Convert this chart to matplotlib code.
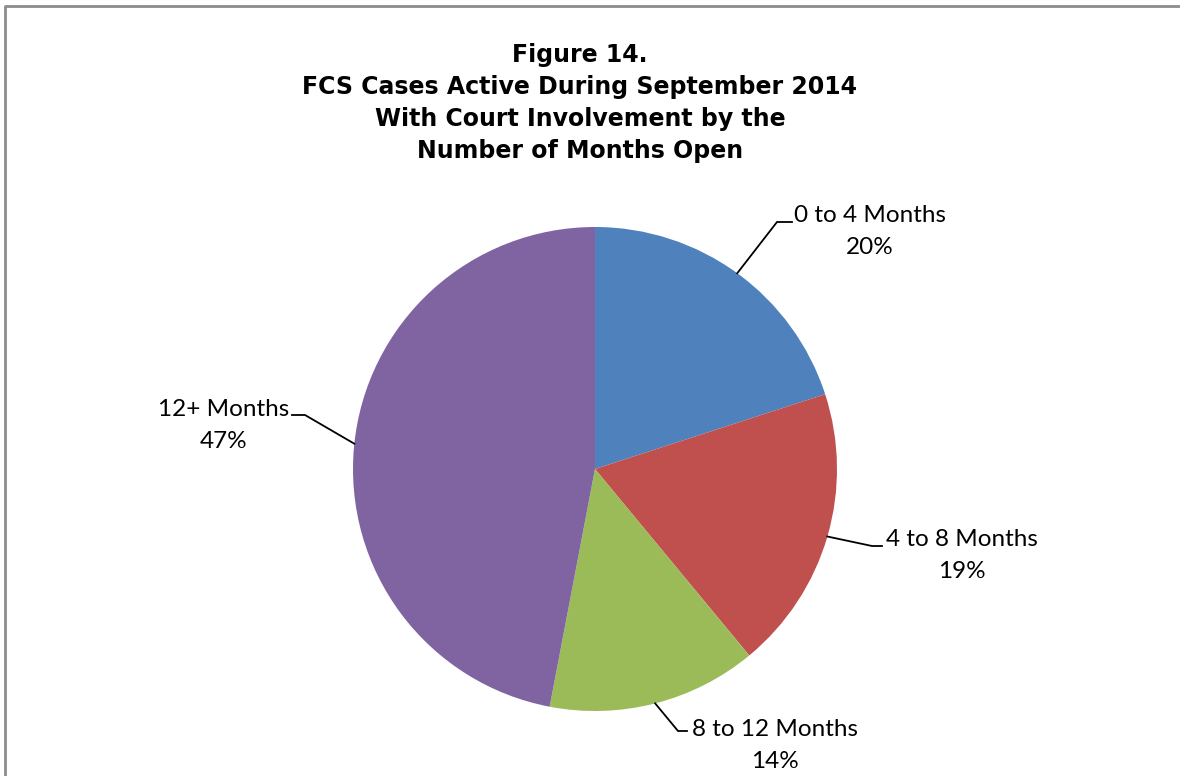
import matplotlib
matplotlib.use('Agg')
import matplotlib.pyplot as plt
import numpy as np

# data
categories = ['0 to 4 Months', '4 to 8 Months', '8 to 12 Months', '12+ Months']
shares = [20, 19, 14, 47]
colors = ['#4F81BD', '#C0504D', '#9BBB59', '#8064A2']
title_lines = ['Figure 14.', 'FCS Cases Active During September 2014',
               'With Court Involvement by the', 'Number of Months Open']

W, H = 1180, 776
fig = plt.figure(figsize=(W / 100, H / 100), dpi=100)
ax = fig.add_axes([0, 0, 1, 1])

cx, cy, r = 595, H - 469, 242
wedges, _ = ax.pie(shares, colors=colors, startangle=90, counterclock=False,
                   center=(cx, cy), radius=r, frame=True,
                   wedgeprops=dict(linewidth=0))
ax.set_xlim(0, W)
ax.set_ylim(0, H)
ax.set_aspect('equal')
ax.axis('off')

# label layout (pixel coords, y from top): label centre x, line centres, elbow, line end
label_x = [870, 962, 775, 224]
label_y = [(216, 247), (540, 572), (729, 761), (410, 441)]
elbows = [(777, 222), (872, 546), (678, 731), (305, 415)]
ends = [(792, 222), (882, 546), (687, 731), (292, 415)]
angles = [None, None, None, 174]

for i, w in enumerate(wedges):
    a = angles[i] if angles[i] is not None else (w.theta1 + w.theta2) / 2
    sx = cx + r * np.cos(np.radians(a))
    sy = cy + r * np.sin(np.radians(a))
    ex, ey = elbows[i]
    tx, ty = ends[i]
    ax.plot([sx, ex, tx], [sy, H - ey, H - ty], color='black', lw=1.3,
            solid_joinstyle='miter', clip_on=False)
    y1, y2 = label_y[i]
    ax.text(label_x[i], H - y1, categories[i], ha='center', va='center',
            fontsize=17.5, family=['Lato', 'DejaVu Sans'])
    ax.text(label_x[i], H - y2, f'{shares[i]}%', ha='center', va='center',
            fontsize=17.5, family=['Lato', 'DejaVu Sans'])

for k, line in enumerate(title_lines):
    ax.text(580, H - (62 + 32 * k), line, ha='center', va='baseline', fontsize=17,
            fontweight='bold', family='DejaVu Sans')

# chart frame
ax.plot([5, 5, W], [0, H - 6, H - 6], color='#8c8c8c', lw=2, clip_on=False)

fig.savefig('out.png', dpi=100)
